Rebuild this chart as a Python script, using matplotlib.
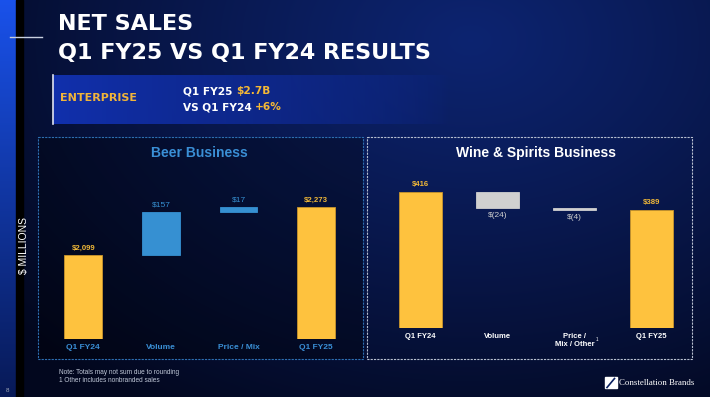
import numpy as np
import matplotlib
matplotlib.use("Agg")
import matplotlib.pyplot as plt
from matplotlib.patches import Rectangle

plt.rcParams["font.family"] = ["Liberation Sans", "DejaVu Sans"]
plt.rcParams["text.parse_math"] = False

# net sales, $ millions
beer_labels = ["Q1 FY24", "Volume", "Price / Mix", "Q1 FY25"]
beer_start = 2099
beer_steps = [157, 17]
beer_end = 2273

wine_labels = ["Q1 FY24", "Volume", "Price /\nMix / Other", "Q1 FY25"]
wine_start = 416
wine_steps = [-24, -4]
wine_end = 389

W, H = 710, 397
YELLOW = "#fec23e"
BLUE = "#3690d2"
GREY = "#d0d0d0"

fig = plt.figure(figsize=(W / 100, H / 100), dpi=100)

# background layer, drawn in pixel coordinates
bg = fig.add_axes([0, 0, 1, 1])
bg.set_xlim(0, W)
bg.set_ylim(H, 0)
bg.axis("off")

yy, xx = np.mgrid[0:H, 0:W]
t = np.sqrt(((xx - 470) / 600.0) ** 2 + ((yy - 40) / 430.0) ** 2)
t = np.clip(t, 0, 1) ** 1.1
light = np.array([0.05, 0.14, 0.44])
dark = np.array([0.01, 0.03, 0.12])
img = light * (1 - t[..., None]) + dark * t[..., None]
bg.imshow(img, extent=(0, W, H, 0), aspect="auto", zorder=0)

# left blue strip + black strip
s = np.linspace(0, 1, H)[:, None, None]
strip = np.array([0.10, 0.32, 0.92]) * (1 - s) + np.array([0.03, 0.10, 0.34]) * s
bg.imshow(strip, extent=(0, 16, H, 0), aspect="auto", zorder=1)
bg.add_patch(Rectangle((16, 0), 7, H, color="black", zorder=1))
bg.plot([10, 42], [37, 37], color="#c8d0e0", lw=1, zorder=2)

# title
bg.text(58, 30, "NET SALES", color="white", fontsize=16, fontweight="bold",
        family="DejaVu Sans", va="baseline", zorder=3)
bg.text(58, 59, "Q1 FY25 VS Q1 FY24 RESULTS", color="white", fontsize=16,
        fontweight="bold", family="DejaVu Sans", va="baseline", zorder=3)

# enterprise box
g = np.zeros((1, 200, 4))
g[..., :3] = [0.07, 0.19, 0.68]
g[..., 3] = np.linspace(1, 0, 200) ** 0.7
bg.imshow(g, extent=(53, 450, 124, 75), aspect="auto", zorder=2)
bg.plot([53, 53], [75, 124], color="#e0e4f0", lw=1.2, zorder=3)
bg.text(60, 98, "ENTERPRISE", color="#f0b43a", fontsize=8, fontweight="bold",
        family="DejaVu Sans", va="center", zorder=3)
t1 = bg.text(183, 91, "Q1 FY25", color="white", fontsize=7.6, fontweight="bold",
             family="DejaVu Sans", va="center", zorder=3)
bg.annotate("$2.7B", xy=(1, 0.5), xycoords=t1, xytext=(2.5, 0), textcoords="offset points",
            color="#f5b935", fontsize=7.6, fontweight="bold", family="DejaVu Sans",
            va="center", zorder=3)
t2 = bg.text(183, 107, "VS Q1 FY24", color="white", fontsize=7.6, fontweight="bold",
             family="DejaVu Sans", va="center", zorder=3)
bg.annotate("+6%", xy=(1, 0.5), xycoords=t2, xytext=(2.5, 0), textcoords="offset points",
            color="#f5b935", fontsize=7.6, fontweight="bold", family="DejaVu Sans",
            va="center", zorder=3)

# panels
bg.add_patch(Rectangle((38.3, 137.3), 325, 221.4, facecolor=(0, 0, 0, 0.3),
                       edgecolor="#2d6fb2", lw=0.8, ls=(0, (2, 1)), zorder=2))
bg.add_patch(Rectangle((367.3, 137.3), 325, 221.4, facecolor="none",
                       edgecolor="#b8c0d0", lw=0.8, ls=(0, (2, 1)), zorder=2))
bg.text(199, 153, "Beer Business", color="#3a8fd6", fontsize=10, fontweight="bold",
        ha="center", va="center", zorder=3)
bg.text(536, 153, "Wine & Spirits Business", color="white", fontsize=10,
        fontweight="bold", ha="center", va="center", zorder=3)

bg.text(24, 245, "$ MILLIONS", color="white", fontsize=7.5, rotation=90,
        ha="center", va="center", zorder=3)
bg.text(7, 390, "8", color="#a0a8b8", fontsize=4.5, ha="center", va="center", zorder=3)
bg.text(59, 372, "Note: Totals may not sum due to rounding", color="#c0c8d8",
        fontsize=4.7, va="center", zorder=3)
bg.text(59, 380, "1 Other includes nonbranded sales", color="#c0c8d8",
        fontsize=4.7, va="center", zorder=3)

# logo
bg.add_patch(Rectangle((605, 376.7), 11.5, 11.5, color="white", zorder=3))
bg.plot([607, 614.5], [387.5, 378.5], color="#0a2060", lw=1.2, zorder=4)
bg.text(619, 383.3, "Constellation Brands", color="white", fontsize=6.4,
        family="Liberation Serif", va="center", zorder=3)


def px_axes(x0, y0, x1, y1):
    ax = fig.add_axes([x0 / W, 1 - y1 / H, (x1 - x0) / W, (y1 - y0) / H])
    ax.patch.set_alpha(0)
    for sp in ax.spines.values():
        sp.set_visible(False)
    ax.set_yticks([])
    ax.set_xlim(-0.5, 3.5)
    return ax


def waterfall(ax, start, steps, end, width, up_color, down_color):
    ax.bar(0, start, width=width, color=YELLOW, edgecolor="#c9952c", lw=0.6)
    ax.annotate(f"${start:,}", (0, start), xytext=(0, 5), textcoords="offset points",
                ha="center", va="center", color="#f0b838", fontsize=5.6, fontweight="bold")
    running = start
    for i, st in enumerate(steps, start=1):
        c = up_color if st > 0 else down_color
        ax.bar(i, st, bottom=running, width=width, color=c, edgecolor=c, lw=0.6)
        if st > 0:
            ax.annotate(f"${st:,}", (i, running + st), xytext=(0, 5),
                        textcoords="offset points", ha="center", va="center",
                        color=up_color, fontsize=6)
        else:
            ax.annotate(f"$({-st:,})", (i, running + st), xytext=(0, -5.5),
                        textcoords="offset points", ha="center", va="center",
                        color=down_color, fontsize=6)
        running += st
    ax.bar(3, end, width=width, color=YELLOW, edgecolor="#c9952c", lw=0.6)
    ax.annotate(f"${end:,}", (3, end), xytext=(0, 5), textcoords="offset points",
                ha="center", va="center", color="#f0b838", fontsize=5.6, fontweight="bold")


beer_ax = px_axes(44.5, 185, 354.9, 339)
beer_ax.set_ylim(1800, 1800 + 154 / 0.2793)
waterfall(beer_ax, beer_start, beer_steps, beer_end, 0.486, BLUE, GREY)
beer_ax.set_xticks(range(4))
beer_ax.set_xticklabels(beer_labels, fontweight="bold")
beer_ax.tick_params(axis="x", length=0, pad=3.4, labelsize=6, labelcolor="#3a8fd6")

wine_ax = px_axes(382.2, 175, 690, 328.3)
wine_ax.set_ylim(208, 208 + 153.3 / 0.656)
waterfall(wine_ax, wine_start, wine_steps, wine_end, 0.565, BLUE, GREY)
wine_ax.set_xticks(range(4))
wine_ax.set_xticklabels(wine_labels, fontweight="bold")
wine_ax.tick_params(axis="x", length=0, pad=3.5, labelsize=5.5, labelcolor="white")
bg.text(596.5, 339.5, "1", color="white", fontsize=3.3, ha="center", va="center", zorder=3)

fig.savefig("out.png", dpi=100)
